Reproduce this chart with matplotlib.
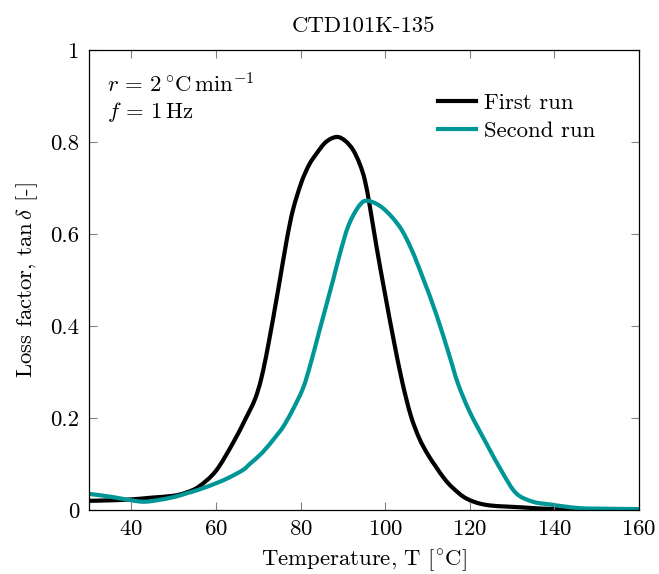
import numpy as np
import matplotlib
matplotlib.use("Agg")
import matplotlib.pyplot as plt
from matplotlib.path import Path
from matplotlib.patches import PathPatch
from matplotlib.lines import Line2D

# first run (black)
t_first = [30, 35, 40, 45, 50, 53, 56, 60, 64, 67, 69.2, 70.7, 72.3, 74.7,
           76.7, 78.2, 80.2, 82, 83.8, 86, 88.5, 90.5, 92.4, 94, 95.2, 96.4,
           98, 100, 102, 104, 106, 108, 110, 112, 114, 116, 119.2, 123.9,
           131.8, 140, 150, 160]
tan_first = [0.020, 0.021, 0.023, 0.027, 0.031, 0.038, 0.051, 0.085, 0.145,
             0.198, 0.240, 0.285, 0.355, 0.478, 0.585, 0.652, 0.712, 0.750,
             0.775, 0.800, 0.811, 0.803, 0.783, 0.752, 0.717, 0.659, 0.570,
             0.468, 0.370, 0.280, 0.207, 0.157, 0.122, 0.094, 0.068, 0.048,
             0.025, 0.011, 0.006, 0.002, 0.001, 0.001]

# second run (teal)
t_second = [30, 35, 40, 43, 46, 50, 53, 56.2, 60, 63, 66.4, 68, 71, 74, 75.9,
            78, 80.6, 82.5, 84.5, 87.7, 89.3, 91.4, 94.0, 96.0, 99.5, 103.4,
            106.2, 108.9, 112.1, 115.2, 117.2, 120, 123.9, 127.8, 131, 134.9,
            139, 142, 146, 150, 160]
tan_second = [0.035, 0.029, 0.021, 0.018, 0.021, 0.028, 0.036, 0.045, 0.058,
              0.070, 0.087, 0.100, 0.125, 0.158, 0.181, 0.215, 0.265, 0.322,
              0.391, 0.500, 0.557, 0.620, 0.663, 0.672, 0.656, 0.616, 0.567,
              0.505, 0.425, 0.335, 0.275, 0.213, 0.145, 0.080, 0.036, 0.018,
              0.012, 0.008, 0.004, 0.003, 0.002]

plt.rcParams['font.family'] = ['cmr10', 'DejaVu Serif']
plt.rcParams['mathtext.fontset'] = 'cm'
plt.rcParams['axes.unicode_minus'] = False
plt.rcParams['axes.formatter.use_mathtext'] = True
fs = 16.4


def smooth_path(x, y, tension=0.5):
    # catmull-rom style bezier through the points (like pgfplots "smooth")
    p = np.column_stack([x, y]).astype(float)
    verts = [p[0]]
    codes = [Path.MOVETO]
    k = tension / 3.0
    for i in range(len(p) - 1):
        p0 = p[i - 1] if i > 0 else p[i]
        p3 = p[i + 2] if i + 2 < len(p) else p[i + 1]
        c1 = p[i] + (p[i + 1] - p0) * k
        c2 = p[i + 1] - (p3 - p[i]) * k
        verts += [c1, c2, p[i + 1]]
        codes += [Path.CURVE4] * 3
    return Path(verts, codes)


fig = plt.figure(figsize=(6.59, 5.74), dpi=100)
ax = fig.add_axes([0.135, 0.1115, 0.8347, 0.8014])

teal = '#009696'
ax.add_patch(PathPatch(smooth_path(t_first, tan_first), fill=False,
                       edgecolor='black', lw=3, joinstyle='round'))
ax.add_patch(PathPatch(smooth_path(t_second, tan_second), fill=False,
                       edgecolor=teal, lw=3, joinstyle='round'))

ax.set_xlim(30, 160)
ax.set_ylim(0, 1)
ax.set_xticks([40, 60, 80, 100, 120, 140, 160])
ax.set_yticks([0, 0.2, 0.4, 0.6, 0.8, 1])
ax.set_yticklabels(['0', '0.2', '0.4', '0.6', '0.8', '1'])
ax.tick_params(direction='in', length=6, width=0.8, color='#808080',
               top=True, right=True, labelsize=fs, pad=7)
for s in ax.spines.values():
    s.set_linewidth(0.9)

ax.set_xlabel(r'Temperature, T [$^{\circ}$C]', fontsize=fs, labelpad=6)
ax.set_ylabel(r'Loss factor, tan$\,\delta$ [-]', fontsize=fs, labelpad=7)
ax.set_title('CTD101K-135', fontsize=fs, pad=13)

ax.text(0.032, 0.926, r'$r\,=\,2\,^{\circ}\mathrm{C\,min}^{-1}$', transform=ax.transAxes,
        fontsize=fs, va='center', ha='left')
ax.text(0.032, 0.866, r'$f\,=\,1\,\mathrm{Hz}$', transform=ax.transAxes,
        fontsize=fs, va='center', ha='left')

handles = [Line2D([], [], color='black', lw=3), Line2D([], [], color=teal, lw=3)]
ax.legend(handles, ['First run', 'Second run'], loc='upper right',
          bbox_to_anchor=(0.945, 0.937), frameon=False, fontsize=fs,
          handlelength=1.67, handletextpad=0.35, labelspacing=0.38,
          borderaxespad=0.2)

fig.savefig('out.png', dpi=100)
